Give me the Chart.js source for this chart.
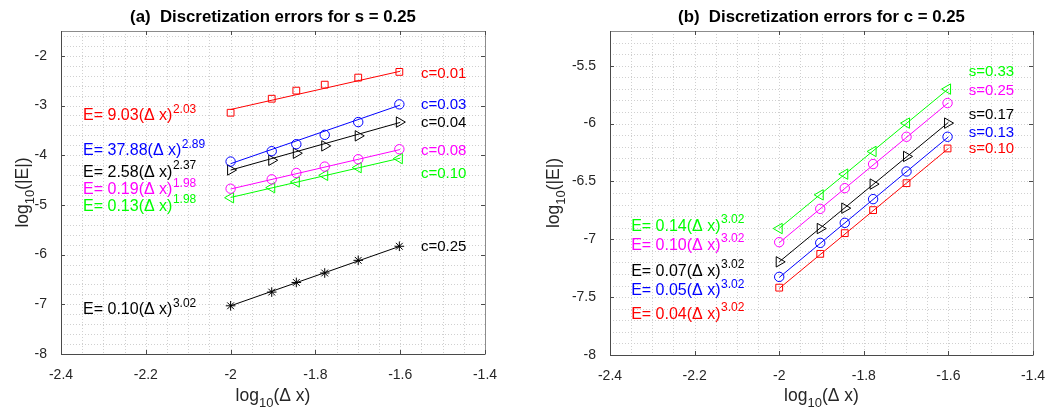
<!DOCTYPE html>
<html><head><meta charset="utf-8">
<script src="https://cdn.jsdelivr.net/npm/chart.js@4.4.0/dist/chart.umd.min.js"></script>
<style>
html,body{margin:0;padding:0;background:#fff;width:1053px;height:409px;overflow:hidden}
.w{position:absolute;top:0;height:409px}
#w1{left:0;width:530px}
#w2{left:530px;width:523px}
</style></head><body>
<div class="w" id="w1"><canvas id="c1" width="530" height="409"></canvas></div>
<div class="w" id="w2"><canvas id="c2" width="523" height="409"></canvas></div>
<script>
// ---------- shared x data: log10(dx) ----------
const logDx = [-2, -1.903, -1.845, -1.778, -1.699, -1.602];
const fitX = [-2, -1.6];
const xTickVals = [-2.4, -2.2, -2, -1.8, -1.6, -1.4];
const xTickLabels = ['-2.4', '-2.2', '-2', '-1.8', '-1.6', '-1.4'];

// ---------- panel (a): s = 0.25 ----------
const aSeriesNames = ['c=0.01', 'c=0.03', 'c=0.04', 'c=0.08', 'c=0.10', 'c=0.25'];
const aErrC001 = [-3.145, -2.863, -2.70, -2.58, -2.438, -2.323];
const aErrC003 = [-4.127, -3.919, -3.778, -3.59, -3.333, -2.976];
const aErrC004 = [-4.297, -4.101, -3.96, -3.812, -3.61, -3.333];
const aErrC008 = [-4.673, -4.485, -4.357, -4.229, -4.081, -3.879];
const aErrC010 = [-4.855, -4.653, -4.539, -4.404, -4.249, -4.067];
const aErrC025 = [-7.03, -6.754, -6.56, -6.37, -6.115, -5.832];
const aFitC001 = [-3.08, -2.31];
const aFitC003 = [-4.17, -2.99];
const aFitC004 = [-4.30, -3.34];
const aFitC008 = [-4.68, -3.885];
const aFitC010 = [-4.85, -4.06];
const aFitC025 = [-7.03, -5.83];
const aCoef = ['9.03', '37.88', '2.58', '0.19', '0.13', '0.10'];
const aExp = ['2.03', '2.89', '2.37', '1.98', '1.98', '3.02'];
const aYTickVals = [-8, -7, -6, -5, -4, -3, -2];
const aYTickLabels = ['-8', '-7', '-6', '-5', '-4', '-3', '-2'];

// ---------- panel (b): c = 0.25 ----------
const bSeriesNames = ['s=0.10', 's=0.13', 's=0.17', 's=0.25', 's=0.33'];
const bErrS010 = [-7.418, -7.126, -6.947, -6.748, -6.515, -6.215];
const bErrS013 = [-7.325, -7.031, -6.858, -6.653, -6.414, -6.114];
const bErrS017 = [-7.195, -6.907, -6.731, -6.523, -6.284, -5.996];
const bErrS025 = [-7.025, -6.737, -6.558, -6.35, -6.114, -5.823];
const bErrS033 = [-6.907, -6.616, -6.437, -6.241, -5.996, -5.702];
const bFitS010 = [-7.425, -6.215];
const bFitS013 = [-7.33, -6.115];
const bFitS017 = [-7.195, -5.99];
const bFitS025 = [-7.03, -5.82];
const bFitS033 = [-6.905, -5.70];
const bCoef = ['0.04', '0.05', '0.07', '0.10', '0.14'];
const bExp = ['3.02', '3.02', '3.02', '3.02', '3.02'];
const bYTickVals = [-8, -7.5, -7, -6.5, -6, -5.5];
const bYTickLabels = ['-8', '-7.5', '-7', '-6.5', '-6', '-5.5'];

// ---------- styles ----------
const RED = '#ff0000', BLUE = '#0000ff', BLACK = '#000000', MAG = '#ff00ff', GRN = '#00ff00';
const FONT = '"Liberation Sans", Arial, Helvetica, sans-serif';
const TICKC = '#262626';

function mk(style) {
  const m = {
    rect: {pointStyle: 'rect', r: 4.8, rot: 0},
    circle: {pointStyle: 'circle', r: 4.7, rot: 0},
    triR: {pointStyle: 'triangle', r: 6, rot: 90},
    triL: {pointStyle: 'triangle', r: 6, rot: -90},
    star: {pointStyle: 'star', r: 4.8, rot: 0}
  };
  return m[style];
}

function buildDatasets(errs, fits, colors, styles) {
  const ds = [];
  errs.forEach((e, i) => {
    const st = mk(styles[i]);
    ds.push({
      type: 'line', data: fitX.map((x, k) => ({x, y: fits[i][k]})),
      borderColor: colors[i], borderWidth: 1, pointRadius: 0, fill: false, tension: 0
    });
    ds.push({
      type: 'scatter', data: logDx.map((x, k) => ({x, y: e[k]})),
      showLine: false, borderColor: colors[i], backgroundColor: 'rgba(0,0,0,0)',
      pointStyle: st.pointStyle, pointRadius: st.r, pointRotation: st.rot,
      pointBorderWidth: 1, pointBackgroundColor: 'rgba(0,0,0,0)', pointBorderColor: colors[i],
      pointHoverRadius: st.r
    });
  });
  return ds;
}

function range(a, b, step) {
  const out = [];
  const n = Math.round((b - a) / step);
  for (let i = 0; i <= n; i++) out.push(+(a + i * step).toFixed(6));
  return out;
}

function drawEq(ctx, x, y, color, coef, exp) {
  ctx.save();
  ctx.fillStyle = color;
  ctx.textAlign = 'left';
  ctx.textBaseline = 'middle';
  ctx.font = '16px ' + FONT;
  const main = 'E= ' + coef + '(\u0394 x)';
  ctx.fillText(main, x, y);
  const w = ctx.measureText(main).width;
  ctx.font = '12px ' + FONT;
  ctx.fillText(exp, x + w + 0.5, y - 6.5);
  ctx.restore();
}

function panelPlugin(cfg) {
  return {
    id: 'panel',
    beforeDatasetsDraw(chart) {
      const {ctx, chartArea: a, scales: {x, y}} = chart;
      ctx.save();
      ctx.strokeStyle = '#d0d0d0';
      ctx.lineWidth = 1;
      ctx.setLineDash([1, 2]);
      cfg.xGrid.forEach(v => {
        const px = Math.round(x.getPixelForValue(v)) + 0.5;
        if (px <= a.left + 1 || px >= a.right - 1) return;
        ctx.beginPath(); ctx.moveTo(px, a.top); ctx.lineTo(px, a.bottom); ctx.stroke();
      });
      cfg.yGrid.forEach(v => {
        const py = Math.round(y.getPixelForValue(v)) + 0.5;
        if (py <= a.top + 1 || py >= a.bottom - 1) return;
        ctx.beginPath(); ctx.moveTo(a.left, py); ctx.lineTo(a.right, py); ctx.stroke();
      });
      ctx.restore();
    },
    afterDatasetsDraw(chart) {
      const {ctx, chartArea: a, scales: {x, y}} = chart;
      ctx.save();
      ctx.setLineDash([]);
      ctx.lineWidth = 1;
      ctx.strokeStyle = '#8c8c8c';
      ctx.beginPath();
      ctx.moveTo(a.left, a.top + 0.5); ctx.lineTo(a.right + 0.5, a.top + 0.5); ctx.lineTo(a.right + 0.5, a.bottom);
      ctx.stroke();
      ctx.strokeStyle = '#4a4a4a';
      ctx.beginPath();
      ctx.moveTo(a.left + 0.5, a.top); ctx.lineTo(a.left + 0.5, a.bottom + 0.5); ctx.lineTo(a.right + 0.5, a.bottom + 0.5);
      ctx.stroke();
      const tl = 4;
      ctx.strokeStyle = '#4a4a4a';
      xTickVals.forEach(v => {
        const px = Math.round(x.getPixelForValue(v)) + 0.5;
        ctx.beginPath(); ctx.moveTo(px, a.bottom); ctx.lineTo(px, a.bottom - tl); ctx.stroke();
        ctx.beginPath(); ctx.moveTo(px, a.top); ctx.lineTo(px, a.top + tl); ctx.stroke();
      });
      cfg.yTicks.forEach(v => {
        const py = Math.round(y.getPixelForValue(v)) + 0.5;
        ctx.beginPath(); ctx.moveTo(a.left, py); ctx.lineTo(a.left + tl, py); ctx.stroke();
        ctx.beginPath(); ctx.moveTo(a.right, py); ctx.lineTo(a.right - tl, py); ctx.stroke();
      });
      ctx.restore();
    },
    afterDraw(chart) {
      const {ctx, chartArea: a, scales: {x, y}} = chart;
      ctx.save();
      // title
      ctx.fillStyle = '#000';
      ctx.font = 'bold 16.8px ' + FONT;
      ctx.textAlign = 'center';
      ctx.textBaseline = 'middle';
      ctx.fillText(cfg.title, (a.left + a.right) / 2, 17.5);
      // x axis label
      ctx.fillStyle = TICKC;
      ctx.textAlign = 'left';
      ctx.textBaseline = 'alphabetic';
      const f1 = '17.5px ' + FONT, f2 = '13px ' + FONT;
      ctx.font = f1; const wLog = ctx.measureText('log').width; const wR = ctx.measureText('(\u0394 x)').width;
      ctx.font = f2; const wSub = ctx.measureText('10').width;
      let sx = (a.left + a.right) / 2 - (wLog + wSub + wR) / 2;
      ctx.font = f1; ctx.fillText('log', sx, 401);
      ctx.font = f2; ctx.fillText('10', sx + wLog, 406.5);
      ctx.font = f1; ctx.fillText('(\u0394 x)', sx + wLog + wSub, 401);
      // y axis label
      ctx.save();
      ctx.translate(cfg.yLabelX, (a.top + a.bottom) / 2);
      ctx.rotate(-Math.PI / 2);
      ctx.font = f1; const wR2 = ctx.measureText('(|E|)').width;
      let sy = -(wLog + wSub + wR2) / 2;
      ctx.font = f1; ctx.fillText('log', sy, 0);
      ctx.font = f2; ctx.fillText('10', sy + wLog, 5.5);
      ctx.font = f1; ctx.fillText('(|E|)', sy + wLog + wSub, 0);
      ctx.restore();
      // series labels
      ctx.font = '15px ' + FONT;
      ctx.textAlign = 'left';
      ctx.textBaseline = 'middle';
      cfg.names.forEach((n, i) => {
        ctx.fillStyle = cfg.colors[i];
        ctx.fillText(n, x.getPixelForValue(cfg.nameX), y.getPixelForValue(cfg.nameY[i]));
      });
      cfg.coef.forEach((c, i) => {
        drawEq(ctx, x.getPixelForValue(cfg.eqX), y.getPixelForValue(cfg.eqY[i]), cfg.colors[i], c, cfg.exp[i]);
      });
      ctx.restore();
    }
  };
}

function makeChart(canvasId, datasets, cfg) {
  return new Chart(document.getElementById(canvasId), {
    type: 'scatter',
    data: {datasets},
    options: {
      responsive: false,
      animation: false,
      events: [],
      layout: {padding: {left: 0, top: cfg.top, right: cfg.padRight, bottom: 0}},
      plugins: {legend: {display: false}, tooltip: {enabled: false}, title: {display: false}},
      scales: {
        x: {
          type: 'linear', min: -2.4, max: -1.4,
          grid: {display: false}, border: {display: false},
          afterBuildTicks: s => { s.ticks = xTickVals.map(v => ({value: v})); },
          afterFit: s => { s.height = cfg.xAxisH; },
          ticks: {
            autoSkip: false, maxRotation: 0, padding: 5, color: TICKC,
            font: {family: FONT, size: 14},
            callback: (v, i) => xTickLabels[i]
          }
        },
        y: {
          type: 'linear', min: cfg.yMin, max: cfg.yMax,
          grid: {display: false}, border: {display: false},
          afterBuildTicks: s => { s.ticks = cfg.yTicks.map(v => ({value: v})); },
          afterFit: s => { s.width = cfg.yAxisW; },
          ticks: {
            autoSkip: false, padding: 6, color: TICKC,
            font: {family: FONT, size: 14},
            callback: (v, i) => cfg.yTickLabels[i]
          }
        }
      }
    },
    plugins: [panelPlugin(cfg)]
  });
}

// ---------- panel (a) ----------
const aColors = [RED, BLUE, BLACK, MAG, GRN, BLACK];
makeChart('c1', buildDatasets(
  [aErrC001, aErrC003, aErrC004, aErrC008, aErrC010, aErrC025],
  [aFitC001, aFitC003, aFitC004, aFitC008, aFitC010, aFitC025],
  aColors, ['rect', 'circle', 'triR', 'circle', 'triL', 'star']), {
  title: '(a)  Discretization errors for s = 0.25',
  top: 31, padRight: 45, xAxisH: 55, yAxisW: 61,
  yMin: -8, yMax: -1.5, yTicks: aYTickVals, yTickLabels: aYTickLabels,
  xGrid: range(-2.4, -1.4, 0.05), yGrid: range(-8, -1.5, 0.2),
  yLabelX: 28,
  names: aSeriesNames, colors: aColors,
  nameX: -1.551, nameY: [-2.364, -2.984, -3.354, -3.913, -4.37, -5.853],
  coef: aCoef, exp: aExp,
  eqX: -2.348, eqY: [-3.206, -3.913, -4.35, -4.70, -5.024, -7.11]
});

// ---------- panel (b) ----------
const bColors = [RED, BLUE, BLACK, MAG, GRN];
makeChart('c2', buildDatasets(
  [bErrS010, bErrS013, bErrS017, bErrS025, bErrS033],
  [bFitS010, bFitS013, bFitS017, bFitS025, bFitS033],
  bColors, ['rect', 'circle', 'triR', 'circle', 'triL']), {
  title: '(b)  Discretization errors for c = 0.25',
  top: 31, padRight: 20, xAxisH: 54, yAxisW: 80,
  yMin: -8, yMax: -5.2, yTicks: bYTickVals, yTickLabels: bYTickLabels,
  xGrid: range(-2.4, -1.4, 0.05), yGrid: range(-8, -5.2, 0.1),
  yLabelX: 29,
  names: bSeriesNames, colors: bColors,
  nameX: -1.552, nameY: [-6.221, -6.082, -5.924, -5.716, -5.549],
  coef: bCoef, exp: bExp,
  eqX: -2.35, eqY: [-7.648, -7.446, -7.28, -7.051, -6.89]
});
</script>
</body></html>
